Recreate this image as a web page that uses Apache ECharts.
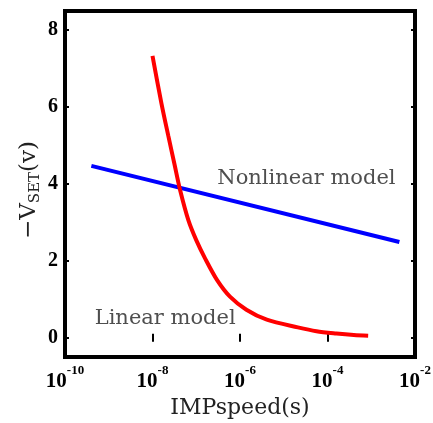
<!DOCTYPE html>
<html lang="en">
<head>
    <meta charset="UTF-8" />
    <title>VSET vs IMPspeed</title>
    <script src="https://cdn.jsdelivr.net/npm/echarts@6.0.0/dist/echarts.min.js"></script>
    <style>
        html, body {
            margin: 0;
            padding: 0;
            background: #fff;
        }
        #chart {
            width: 433px;
            height: 423px;
        }
    </style>
</head>
<body>
<div id="chart"></div>
<script>
    // linear model (red)
    const linearX = [1.0e-8, 1.6e-8, 2.3e-8, 3.2e-8, 4.3e-8, 6.6e-8, 1.0e-7, 1.6e-7, 3.0e-7, 5.9e-7,
                     1.4e-6, 4.1e-6, 2.1e-5, 5.6e-5, 1.6e-4, 4.0e-4, 8.5e-4];
    const linearY = [7.33, 6.1, 5.25, 4.5, 3.83, 3.06, 2.54, 2.06, 1.5, 1.07,
                     0.73, 0.47, 0.27, 0.17, 0.11, 0.07, 0.05];

    // nonlinear model (blue)
    const nonlinearX = [4.0e-10, 4.4e-3];
    const nonlinearY = [4.47, 2.49];

    // text labels inside the plot
    const noteText = ['Nonlinear model', 'Linear model'];
    const noteX = [3.3e-5, 1.95e-8];
    const noteY = [4.14, 0.51];

    const yTicks = [0, 2, 4, 6, 8];

    const serif = '"DejaVu Serif", "Liberation Serif", serif';
    const boldSerif = '"Liberation Serif", "DejaVu Serif", serif';
    const zip = (xs, ys) => xs.map((x, i) => [x, ys[i]]);

    const chart = echarts.init(document.getElementById('chart'));

    const logAxis = {
        type: 'log',
        logBase: 10,
        min: 1e-10,
        max: 1e-2,
        interval: 2,
        axisLine: { show: false },
        splitLine: { show: false },
        axisTick: { inside: true, length: 4, lineStyle: { color: '#000', width: 2 } }
    };
    const valAxis = {
        type: 'value',
        min: -0.5,
        max: 8.5,
        axisLine: { show: false },
        splitLine: { show: false },
        axisTick: { inside: true, length: 4, customValues: yTicks, lineStyle: { color: '#000', width: 2 } }
    };

    const option = {
        animation: false,
        backgroundColor: '#fff',
        grid: {
            left: 65, top: 11, right: 18, bottom: 66,
            outerBoundsMode: 'none',
            containLabel: false,
            show: true,
            borderColor: '#000',
            borderWidth: 4,
            backgroundColor: 'transparent'
        },
        xAxis: [
            Object.assign({}, logAxis, {
                position: 'bottom',
                name: 'IMPspeed(s)',
                nameLocation: 'middle',
                nameGap: 34,
                nameTextStyle: { fontFamily: serif, fontSize: 22, color: '#222' },
                axisLabel: {
                    margin: 7,
                    formatter: v => '{b|10}{s|' + Math.round(Math.log10(v)) + '}',
                    rich: {
                        b: { fontFamily: boldSerif, fontWeight: 'bold', fontSize: 21, color: '#000',
                             lineHeight: 28, verticalAlign: 'bottom' },
                        s: { fontFamily: boldSerif, fontWeight: 'bold', fontSize: 13, color: '#000',
                             lineHeight: 28, verticalAlign: 'top' }
                    }
                }
            }),
            Object.assign({}, logAxis, { position: 'top', axisLabel: { show: false } })
        ],
        yAxis: [
            Object.assign({}, valAxis, {
                position: 'left',
                name: '{a|\u2212V}{b|SET}{a|(v)}',
                nameLocation: 'middle',
                nameGap: 24,
                nameMoveOverlap: false,
                nameTextStyle: {
                    padding: [0, 12, 0, 0],
                    rich: {
                        a: { fontFamily: serif, fontSize: 23, color: '#222', lineHeight: 30, verticalAlign: 'bottom' },
                        b: { fontFamily: serif, fontSize: 15, color: '#222', lineHeight: 30, verticalAlign: 'bottom',
                             padding: [0, 0, -2, 0] }
                    }
                },
                axisLabel: {
                    customValues: yTicks,
                    margin: 7,
                    fontFamily: boldSerif,
                    fontWeight: 'bold',
                    fontSize: 20,
                    color: '#000'
                }
            }),
            Object.assign({}, valAxis, { position: 'right', axisLabel: { show: false } })
        ],
        series: [
            {
                name: 'Linear model',
                type: 'line',
                data: zip(linearX, linearY),
                smooth: 0.3,
                showSymbol: false,
                lineStyle: { color: '#ff0000', width: 4 },
                z: 3
            },
            {
                name: 'Nonlinear model',
                type: 'line',
                data: zip(nonlinearX, nonlinearY),
                showSymbol: false,
                lineStyle: { color: '#0000ff', width: 4 },
                z: 2
            },
            {
                type: 'scatter',
                data: noteText.map((t, i) => [noteX[i], noteY[i], t]),
                symbolSize: 0,
                silent: true,
                label: {
                    show: true,
                    position: 'inside',
                    formatter: p => p.data[2],
                    fontFamily: serif,
                    fontSize: 21,
                    color: '#222'
                }
            }
        ]
    };

    chart.setOption(option);
</script>
</body>
</html>
